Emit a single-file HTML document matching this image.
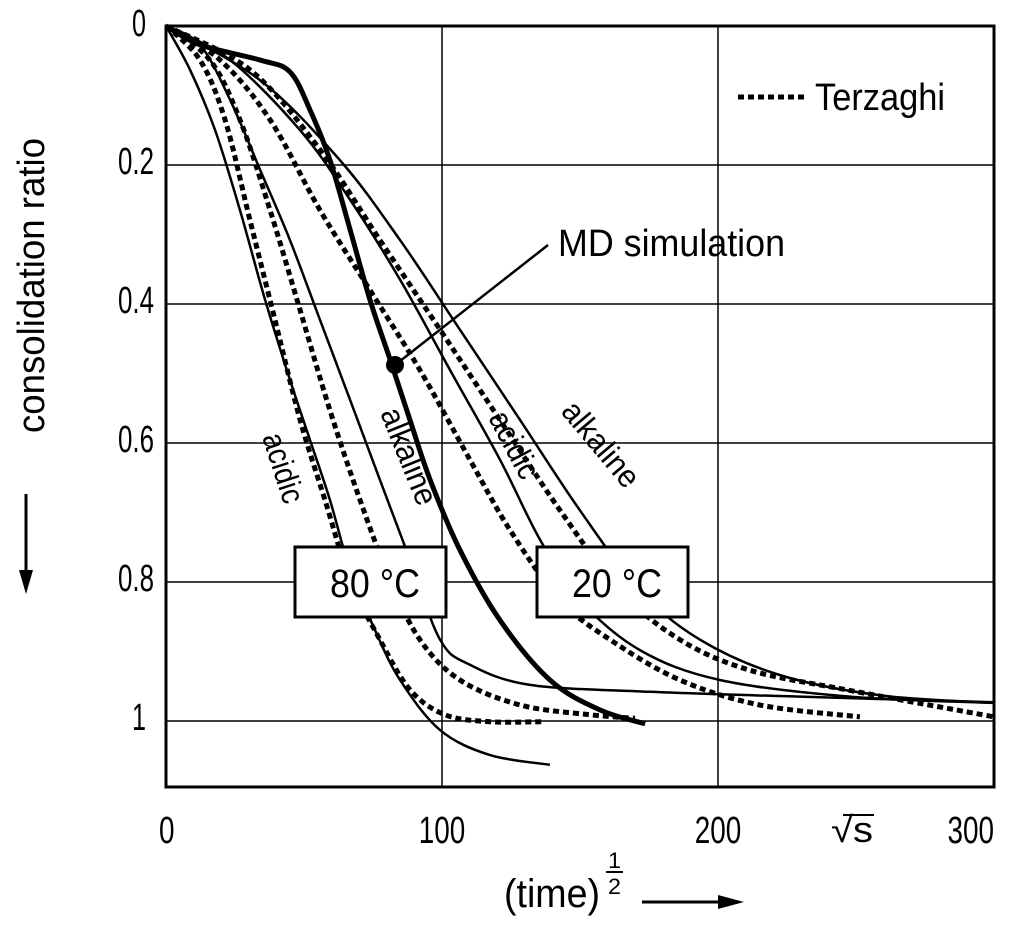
<!DOCTYPE html>
<html><head><meta charset="utf-8"><style>
body{margin:0;background:#fff}
svg text{font-family:"Liberation Sans Narrow","Liberation Sans",sans-serif;fill:#000}
</style></head><body>
<svg id="chart" width="1024" height="937" viewBox="0 0 1024 937" xmlns="http://www.w3.org/2000/svg">
<g id="grid"></g>
<g id="curves"></g>
<rect x="166" y="26" width="828" height="761" fill="none" stroke="#000" stroke-width="3"/>
<g id="ticks" font-size="38"></g>
<g font-size="32">
<text transform="translate(262,437) rotate(72)" textLength="72" lengthAdjust="spacingAndGlyphs">acidic</text>
<text transform="translate(380,413) rotate(68)" textLength="102" lengthAdjust="spacingAndGlyphs">alkaline</text>
<text transform="translate(488,418) rotate(62)" textLength="72" lengthAdjust="spacingAndGlyphs">acidic</text>
<text transform="translate(560,412) rotate(50)" textLength="102" lengthAdjust="spacingAndGlyphs">alkaline</text>
<rect x="295" y="547" width="151" height="70" fill="#fff" stroke="#000" stroke-width="3"/>
<text x="330" y="597" font-size="40" textLength="90" lengthAdjust="spacingAndGlyphs">80  °C</text>
<rect x="537" y="547" width="151" height="70" fill="#fff" stroke="#000" stroke-width="3"/>
<text x="572" y="597" font-size="40" textLength="90" lengthAdjust="spacingAndGlyphs">20  °C</text>
<line x1="395" y1="365" x2="548" y2="245" stroke="#000" stroke-width="2.5"/>
<circle cx="395" cy="365" r="9" fill="#000"/>
<text x="558" y="256" font-size="38" textLength="227" lengthAdjust="spacingAndGlyphs">MD  simulation</text>
<line x1="738" y1="97" x2="805" y2="97" stroke="#000" stroke-width="5" stroke-dasharray="6,4"/>
<text x="815" y="110" font-size="38" textLength="130" lengthAdjust="spacingAndGlyphs">Terzaghi</text>
<text transform="translate(44,433) rotate(-90)" font-size="38" textLength="295" lengthAdjust="spacingAndGlyphs">consolidation  ratio</text>
<line x1="26" y1="494" x2="26" y2="575" stroke="#000" stroke-width="3"/>
<polygon points="19,570 33,570 26,594" fill="#000"/>
<text x="504" y="907" font-size="40" textLength="96" lengthAdjust="spacingAndGlyphs">(time)</text>
<text x="608" y="868" font-size="22" textLength="13" lengthAdjust="spacingAndGlyphs">1</text>
<line x1="606" y1="872" x2="623" y2="872" stroke="#000" stroke-width="2"/>
<text x="608" y="894" font-size="22" textLength="13" lengthAdjust="spacingAndGlyphs">2</text>
<line x1="642" y1="902" x2="725" y2="902" stroke="#000" stroke-width="3"/>
<polygon points="718,895 718,909 744,902" fill="#000"/>
<text x="831" y="842" font-size="36" textLength="42" lengthAdjust="spacingAndGlyphs">√s</text>
<line x1="843" y1="815" x2="874" y2="815" stroke="#000" stroke-width="2"/>
</g>
</svg>
<script>
const xTicks=[0,100,200,300];
const yTicks=[0,0.2,0.4,0.6,0.8,1];
const yTickLabels=["0","0.2","0.4","0.6","0.8","1"];
const a80X=[0,8.7,17.8,26.8,35.9,44.9,52.2,59.4,66.7,75.7,84.8,99.3,117.4,139.1];
const a80Y=[0,.063,.15,.265,.394,.509,.596,.682,.783,.869,.941,1.013,1.049,1.063];
const a80tX=[0,12.3,21.4,30.4,39.5,48.6,57.6,66.7,77.5,88.4,101.1,117.4,137.3];
const a80tY=[0,.049,.135,.279,.423,.567,.682,.797,.883,.955,.991,1.001,1.001];
const k80X=[0,12.3,23.2,34.1,44.9,55.8,66.7,77.5,88.4,99.3,110.1,131.9,175.4,229.7,300];
const k80Y=[0,.027,.106,.207,.308,.423,.538,.653,.768,.883,.919,.948,.958,.965,.973];
const k80tX=[0,15.9,26.8,37.7,48.6,59.4,70.3,81.2,92,106.5,128.3,153.6,169.9];
const k80tY=[0,.049,.135,.265,.409,.553,.682,.797,.883,.941,.977,.991,.996];
const mdX=[0,12.3,34.1,44.9,52.2,59.4,66.7,73.9,81.2,88.4,95.7,106.5,121,139.1,157.2,173.6];
const mdY=[0,.027,.049,.066,.121,.193,.293,.394,.480,.567,.653,.754,.855,.941,.984,1.004];
const a20tX=[0,19.6,37.7,55.8,73.9,92,110.1,124.6,142.8,160.9,186.2,215.2,251.4];
const a20tY=[0,.049,.135,.265,.380,.495,.624,.725,.826,.883,.941,.977,.994];
const a20X=[0,23.2,48.6,66.7,84.8,102.9,121,135.5,150,171.7,200.7,247.8,300];
const a20Y=[0,.049,.150,.250,.365,.495,.624,.739,.826,.898,.941,.965,.974];
const k20tX=[0,30.4,55.8,77.5,99.3,121,142.8,164.5,186.2,211.6,247.8,300];
const k20tY=[0,.063,.178,.308,.437,.567,.697,.812,.883,.927,.956,.994];
const k20X=[0,34.1,63,84.8,106.5,128.3,150,171.7,193.5,222.5,258.7,300];
const k20Y=[0,.078,.193,.308,.437,.567,.697,.812,.883,.934,.963,.974];

const NS="http://www.w3.org/2000/svg";
const sx=v=>166+v*2.76, sy=v=>26+v*695;
const grid=document.getElementById('grid'), ticks=document.getElementById('ticks'), curves=document.getElementById('curves');
function mk(tag,attrs,parent){const e=document.createElementNS(NS,tag);for(const k in attrs)e.setAttribute(k,attrs[k]);parent.appendChild(e);return e;}
xTicks.forEach((t,i)=>{
  const l=mk('line',{x1:sx(t),x2:sx(t),y1:26,y2:787,stroke:'#000','stroke-width':1.5},grid);
  
  
  const s=String(t);
  const w=s.length*15.5;
  const x0=i==0?sx(t)-7:(i==3?sx(t)-w:sx(t)-w/2);
  const tx=mk('text',{x:x0,y:843,textLength:w,lengthAdjust:'spacingAndGlyphs'},ticks);
  
  
  tx.textContent=s;
});
yTicks.forEach((t,i)=>{
  const l=mk('line',{x1:166,x2:994,y1:sy(t),y2:sy(t),stroke:'#000','stroke-width':1.5},grid);
  
  
  const s=yTickLabels[i];
  const w=s.length==1?14:36;
  const tx=mk('text',{x:(s.length==1?146:154)-w,y:sy(t)+(i==0?10:9),textLength:w,lengthAdjust:'spacingAndGlyphs'},ticks);
  
  
  tx.textContent=s;
});
function pathD(X,Y){
  const p=X.map((x,i)=>[sx(x),sy(Y[i])]);
  let d='M'+p[0][0]+','+p[0][1];
  for(let i=0;i<p.length-1;i++){
    const p0=p[i-1]||p[i],p1=p[i],p2=p[i+1],p3=p[i+2]||p2;
    const c1=[p1[0]+(p2[0]-p0[0])/6,p1[1]+(p2[1]-p0[1])/6];
    const c2=[p2[0]-(p3[0]-p1[0])/6,p2[1]-(p3[1]-p1[1])/6];
    d+=' C'+c1+' '+c2+' '+p2;
  }
  return d;
}
const series=[
 [a80X,a80Y,false,2.5,'curve-80c-acidic'],
 [a80tX,a80tY,true,5,'curve-80c-acidic-terzaghi'],
 [k80X,k80Y,false,2.5,'curve-80c-alkaline'],
 [k80tX,k80tY,true,5,'curve-80c-alkaline-terzaghi'],
 [a20tX,a20tY,true,5,'curve-20c-acidic-terzaghi'],
 [a20X,a20Y,false,2.5,'curve-20c-acidic'],
 [k20tX,k20tY,true,5,'curve-20c-alkaline-terzaghi'],
 [k20X,k20Y,false,2.5,'curve-20c-alkaline'],
 [mdX,mdY,false,5,'curve-md-simulation']
];
series.forEach(s=>{
  const e=mk('path',{d:pathD(s[0],s[1]),fill:'none',stroke:'#000','stroke-width':s[3]},curves);
  if(s[2])e.setAttribute('stroke-dasharray','6,4');
  
  
});
</script>
</body></html>
